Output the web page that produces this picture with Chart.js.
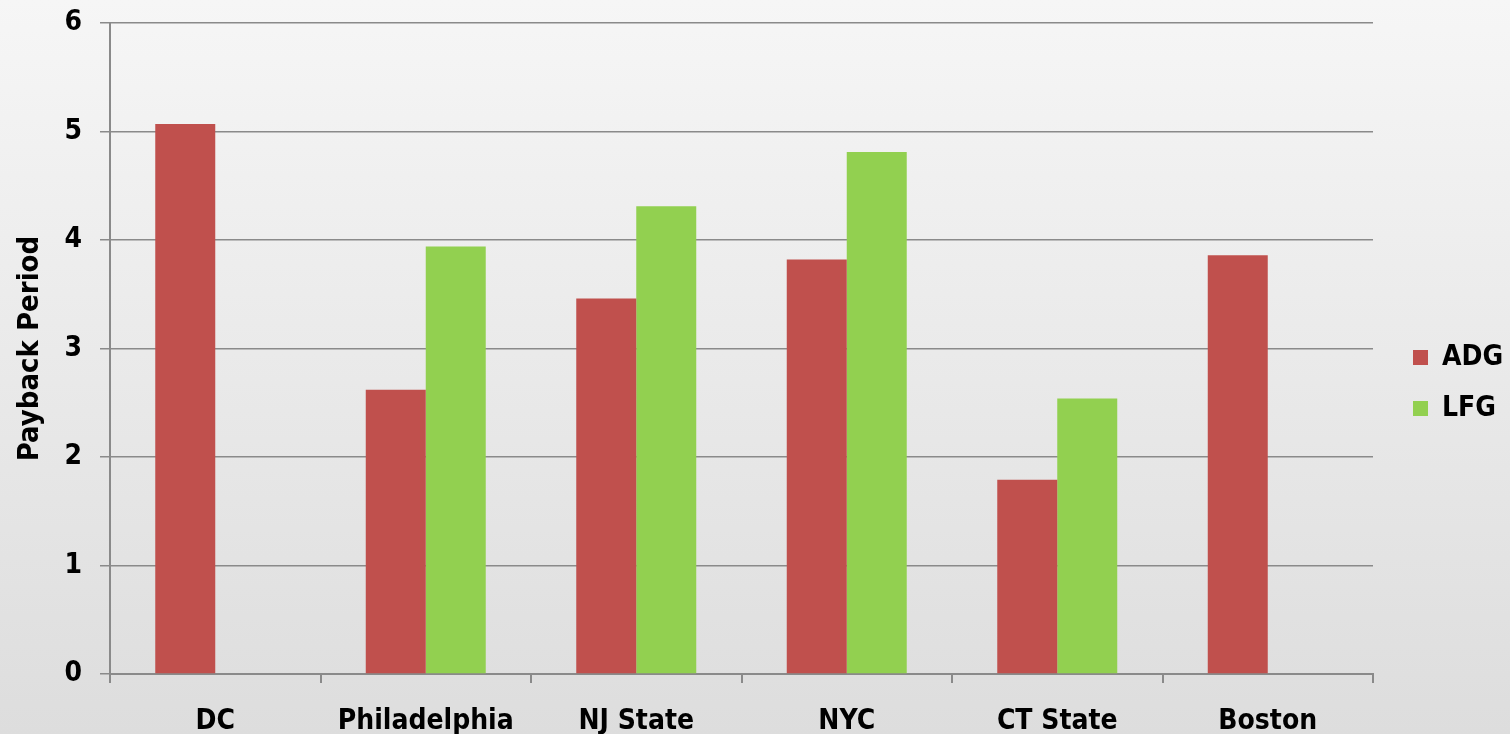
<!DOCTYPE html>
<html>
<head>
<meta charset="utf-8">
<script src="https://cdn.jsdelivr.net/npm/chart.js@4.4.0/dist/chart.umd.min.js"></script>
<style>
  html, body { margin: 0; padding: 0; background: #eee; }
  #wrap { width: 1510px; height: 734px; }
</style>
</head>
<body>
<div id="wrap"><canvas id="paybackChart"></canvas></div>
<script>
const cities = ["DC", "Philadelphia", "NJ State", "NYC", "CT State", "Boston"];
const adgValues = [5.07, 2.62, 3.46, 3.82, 1.79, 3.86];
const lfgValues = [null, 3.94, 4.31, 4.81, 2.54, null];
const yTicks = [0, 1, 2, 3, 4, 5, 6];

const ctx = document.getElementById("paybackChart").getContext("2d");

Chart.defaults.font.family = "'DejaVu Sans Condensed', 'DejaVu Sans', Verdana, sans-serif";
Chart.defaults.font.weight = "bold";
Chart.defaults.color = "#000";

// gradient background behind everything
const bgPlugin = {
  id: "bg",
  beforeDraw(chart) {
    const c = chart.ctx;
    const g = c.createLinearGradient(0, 0, 0, chart.height);
    g.addColorStop(0, "#f6f6f6");
    g.addColorStop(1, "#dddddd");
    c.save();
    c.fillStyle = g;
    c.fillRect(0, 0, chart.width, chart.height);
    c.restore();
  },
};

// move legend a bit right/down like the original
const legendShift = {
  id: "legendShift",
  beforeInit(chart) {
    const fit = chart.legend.fit;
    chart.legend.fit = function () {
      fit.call(this);
      this.width = 137;
    };
  },
  afterLayout(chart) {
    chart.legend.left += 17;
    chart.legend.right += 17;
    chart.legend.top += 16;
    chart.legend.bottom += 16;
  },
};

new Chart(ctx, {
  type: "bar",
  data: {
    labels: cities,
    datasets: [
      {
        label: "ADG",
        data: adgValues,
        backgroundColor: "#c0504d",
        borderWidth: 0,
      },
      {
        label: "LFG",
        data: lfgValues,
        backgroundColor: "#92d050",
        borderWidth: 0,
      },
    ],
  },
  options: {
    responsive: true,
    maintainAspectRatio: false,
    animation: false,
    layout: { padding: { top: 0, left: 0, right: 0, bottom: 0 } },
    datasets: {
      bar: { categoryPercentage: 0.57, barPercentage: 1 },
    },
    plugins: {
      tooltip: { enabled: false },
      legend: {
        position: "right",
        labels: {
          boxWidth: 15,
          boxHeight: 15,
          padding: 23,
          font: { size: 28, weight: "bold" },
        },
      },
    },
    scales: {
      x: {
        grid: {
          display: true,
          drawOnChartArea: false,
          offset: true,
          color: "#8a8a8a",
          lineWidth: 2,
          tickLength: 9,
        },
        border: { color: "#8a8a8a", width: 2 },
        ticks: { padding: 22, font: { size: 28, weight: "bold" } },
        afterFit(scale) {
          scale.height = 60;
        },
      },
      y: {
        min: 0,
        max: 6,
        afterBuildTicks(scale) {
          scale.ticks = yTicks.map((v) => ({ value: v }));
        },
        grid: {
          color: "#8a8a8a",
          lineWidth: 1.5,
          tickLength: 10,
        },
        border: { color: "#8a8a8a", width: 2 },
        ticks: { padding: 18, font: { size: 28, weight: "bold" } },
        title: {
          display: true,
          text: "Payback Period",
          padding: { top: 13, bottom: 0 },
          font: { size: 29, weight: "bold" },
        },
        afterFit(scale) {
          scale.width = 110;
          scale.paddingTop = 23;
          scale.paddingBottom = 0;
        },
      },
    },
  },
  plugins: [bgPlugin, legendShift],
});
</script>
</body>
</html>
